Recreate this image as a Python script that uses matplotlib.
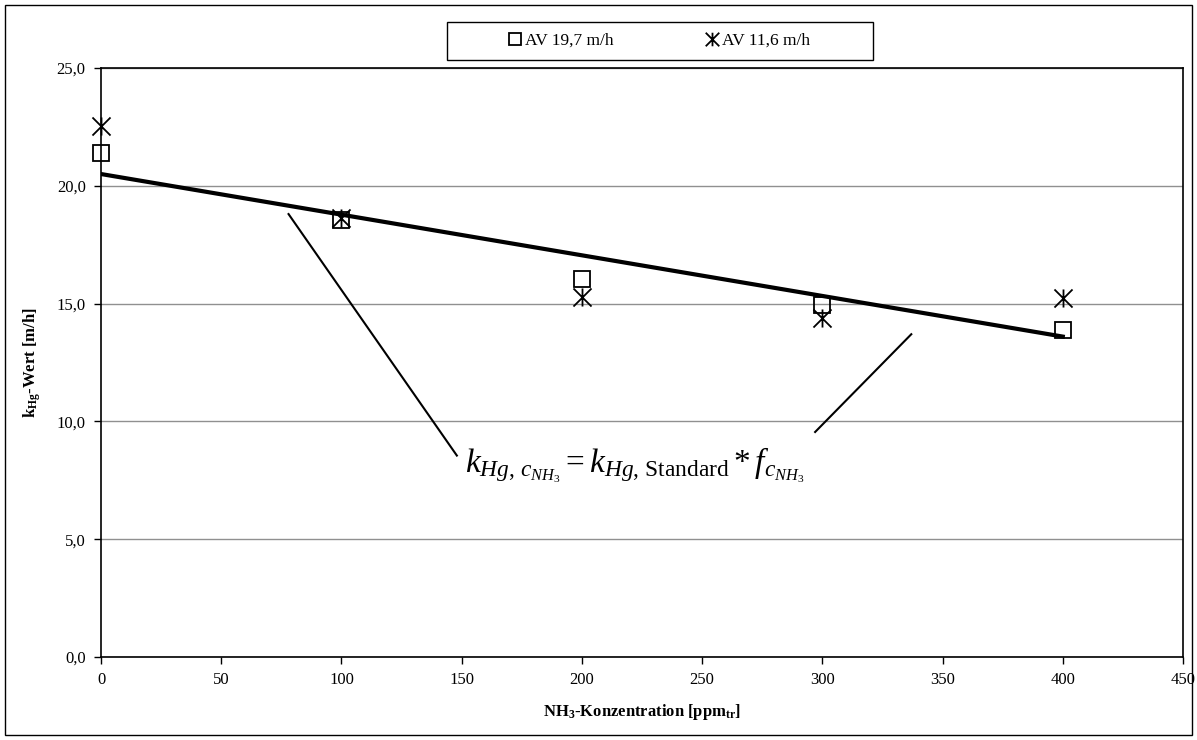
import matplotlib
matplotlib.use("Agg")
import matplotlib.pyplot as plt
from matplotlib.path import Path
from matplotlib.patches import Rectangle

plt.rcParams["font.family"] = ["Liberation Serif", "DejaVu Serif"]
plt.rcParams["mathtext.fontset"] = "custom"
plt.rcParams["mathtext.rm"] = "Liberation Serif"
plt.rcParams["mathtext.it"] = "Liberation Serif:italic"
plt.rcParams["mathtext.bf"] = "Liberation Serif:bold"

# data
nh3 = [0, 100, 200, 300, 400]
k_av197 = [21.4, 18.55, 16.05, 14.95, 13.9]
k_av116 = [22.55, 18.65, 15.3, 14.4, 15.25]
trend_x = [0, 400]
trend_y = [20.5, 13.6]
# leader lines for the formula
lead1_x, lead1_y = [78, 148], [18.8, 8.55]
lead2_x, lead2_y = [337, 297], [13.7, 9.55]

star = Path([(-1, -1), (1, 1), (-1, 1), (1, -1), (0, -1), (0, 1)],
            [Path.MOVETO, Path.LINETO, Path.MOVETO, Path.LINETO, Path.MOVETO, Path.LINETO])

fig = plt.figure(figsize=(11.97, 7.40), dpi=100)
fig.patches.append(Rectangle((5/1197, 5/740), 1187/1197, 730/740, transform=fig.transFigure,
                             fill=False, ec="black", lw=1.0))
# legend frame
fig.patches.append(Rectangle((447/1197, 680/740), 426/1197, 38/740, transform=fig.transFigure,
                             fill=False, ec="black", lw=1.0))
ax = fig.add_axes([101/1197, 83/740, 1082/1197, 589/740])

ax.set_xlim(0, 450); ax.set_ylim(0, 25)
ax.set_xticks(range(0, 451, 50))
ax.set_yticks([0, 5, 10, 15, 20, 25])
ax.set_yticklabels([f"{v:.1f}".replace(".", ",") for v in [0, 5, 10, 15, 20, 25]])
ax.tick_params(labelsize=12, direction="out", length=5, width=1, pad=6)
ax.grid(axis="y", color="#909090", lw=1)
for s in ax.spines.values():
    s.set_linewidth(1.2)

ax.plot(trend_x, trend_y, color="black", lw=3, zorder=3)
ax.plot(lead1_x, lead1_y, color="black", lw=1.5)
ax.plot(lead2_x, lead2_y, color="black", lw=1.5)
ax.plot(nh3, k_av197, ls="none", marker="s", ms=11, mfc="none", mec="black", mew=1.3,
        label="AV 19,7 m/h", zorder=4, clip_on=False)
ax.plot(nh3, k_av116, ls="none", marker=star, ms=13, mfc="none", mec="black", mew=1.3,
        label="AV 11,6 m/h", zorder=4, clip_on=False)

ax.text(222, 8.15, r"$k_{Hg,\,c_{NH_3}} = k_{Hg,\,\mathrm{Standard}} * f_{c_{NH_3}}$",
        fontsize=24, ha="center", va="center")

ax.set_ylabel(r"k$_{\mathbf{Hg}}$-Wert [m/h]", fontsize=12, fontweight="bold", labelpad=10)
ax.set_xlabel(r"NH$_{\mathbf{3}}$-Konzentration [ppm$_{\mathbf{tr}}$]", fontsize=12,
              fontweight="bold", labelpad=10)

fig.legend(loc="center", bbox_to_anchor=(494/1197, 680/740, 330/1197, 38/740),
           mode="expand", ncol=2, frameon=False, fontsize=12.5,
           handlelength=0.8, handletextpad=0.2, borderpad=0.3, markerscale=0.75)

fig.savefig("out.png", dpi=100)
